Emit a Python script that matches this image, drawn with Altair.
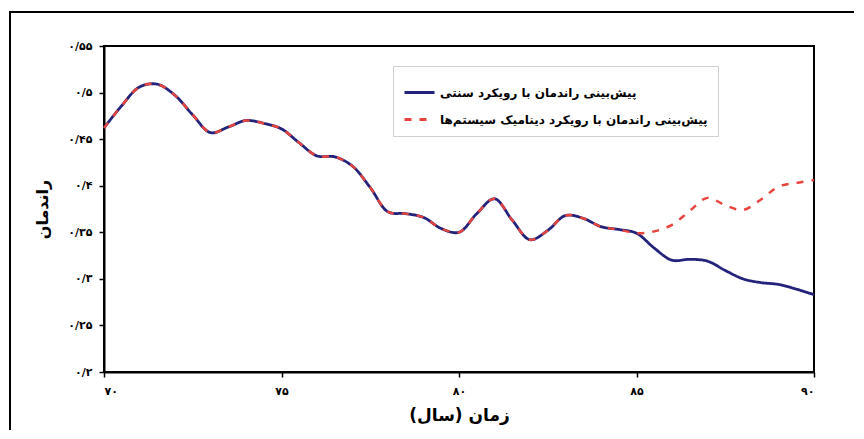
import altair as alt
import pandas as pd

years = [70.0, 70.5, 71.0, 71.5, 72.0, 72.5, 73.0, 73.5, 74.0, 74.5, 75.0,
         75.5, 76.0, 76.5, 77.0, 77.5, 78.0, 78.5, 79.0, 79.5, 80.0,
         80.5, 81.0, 81.5, 82.0, 82.5, 83.0, 83.5, 84.0, 84.5, 85.0,
         85.5, 86.0, 86.5, 87.0, 87.5, 88.0, 88.5, 89.0, 89.5, 90.0]

traditional = [0.462, 0.486, 0.506, 0.509, 0.497, 0.476, 0.457, 0.463, 0.470, 0.467, 0.461,
               0.446, 0.432, 0.431, 0.421, 0.398, 0.372, 0.370, 0.366, 0.354, 0.350,
               0.370, 0.386, 0.363, 0.342, 0.352, 0.368, 0.365, 0.356, 0.353, 0.349,
               0.333, 0.320, 0.321, 0.319, 0.309, 0.300, 0.296, 0.294, 0.289, 0.283]

system_dynamics = [0.462, 0.486, 0.506, 0.509, 0.497, 0.476, 0.457, 0.463, 0.470, 0.467, 0.461,
                   0.446, 0.432, 0.431, 0.421, 0.398, 0.372, 0.370, 0.366, 0.354, 0.350,
                   0.370, 0.386, 0.363, 0.342, 0.352, 0.368, 0.365, 0.356, 0.353, 0.349,
                   0.351, 0.358, 0.373, 0.387, 0.379, 0.374, 0.385, 0.399, 0.403, 0.406]

series_names = ["پیش‌بینی راندمان با رویکرد سنتی",
                "پیش‌بینی راندمان با رویکرد دینامیک سیستم‌ها"]
series_colors = ["#23237c", "#e8433d"]
series_dash = [[1, 0], [7, 8]]

y_ticks = [0.2, 0.25, 0.3, 0.35, 0.4, 0.45, 0.5, 0.55]
y_tick_labels = ["۰/۲", "۰/۲۵", "۰/۳", "۰/۳۵", "۰/۴", "۰/۴۵", "۰/۵", "۰/۵۵"]
x_ticks = [70, 75, 80, 85, 90]
x_tick_labels = ["۷۰", "۷۵", "۸۰", "۸۵", "۹۰"]

x_title = "زمان (سال)" + "\u200f"
y_title = "راندمان"

FONT = "DejaVu Sans"


def label_expr(values, labels):
    parts = [f"abs(datum.value - {v}) < 1e-6 ? '{l}'" for v, l in zip(values, labels)]
    return " : ".join(parts) + " : ''"


df = pd.concat([
    pd.DataFrame({"year": years, "value": traditional, "series": series_names[0]}),
    pd.DataFrame({"year": years, "value": system_dynamics, "series": series_names[1]}),
])

x_enc = alt.X("year:Q",
              scale=alt.Scale(domain=[70, 90], nice=False, zero=False),
              axis=alt.Axis(values=x_ticks, labelExpr=label_expr(x_ticks, x_tick_labels),
                            title=x_title, grid=False, tickSize=5, labelPadding=8,
                            titlePadding=11, titleFontSize=17))
y_enc = alt.Y("value:Q",
              scale=alt.Scale(domain=[0.2, 0.55], nice=False, zero=False),
              axis=alt.Axis(values=y_ticks, labelExpr=label_expr(y_ticks, y_tick_labels),
                            title=y_title, grid=False, tickSize=5, labelPadding=7,
                            titlePadding=17))

legend_opts = dict(title=None, orient="none", legendX=289, legendY=20,
                   symbolType="stroke", symbolSize=900, symbolStrokeWidth=3,
                   labelFontSize=12, labelFont=FONT, labelFontWeight="bold",
                   labelColor="black", labelLimit=0, strokeColor="#d0d0d0",
                   fillColor="white", padding=10, rowPadding=4, labelOffset=4)

color_enc = alt.Color("series:N",
                      scale=alt.Scale(domain=series_names, range=series_colors),
                      legend=alt.Legend(**legend_opts))
dash_enc = alt.StrokeDash("series:N",
                          scale=alt.Scale(domain=series_names, range=series_dash),
                          legend=alt.Legend(**legend_opts))

base = alt.Chart(df)

blue = base.transform_filter(alt.datum.series == series_names[0]).mark_line(
    interpolate="catmull-rom", strokeWidth=2.8).encode(
    x=x_enc, y=y_enc, color=color_enc, strokeDash=dash_enc)

red = base.transform_filter(alt.datum.series == series_names[1]).mark_line(
    interpolate="catmull-rom", strokeWidth=2.4).encode(
    x=x_enc, y=y_enc, color=color_enc, strokeDash=dash_enc)

frame = alt.Chart(alt.Data(values=[{"f": 1}])).mark_rect(
    fill=None, stroke="black", strokeWidth=2).encode(
    x=alt.value(-94), x2=alt.value(900), y=alt.value(-34), y2=alt.value(500))

chart = alt.layer(frame, blue, red).properties(
    width=710, height=326,
    autosize=alt.AutoSizeParams(type="none"),
    padding={"left": 96, "top": 38, "right": 40, "bottom": 58},
).configure_view(
    stroke="black", strokeWidth=2
).configure_axis(
    domainColor="black", domainWidth=2, tickColor="black", tickWidth=1.5,
    labelFont=FONT, labelFontWeight="bold", labelFontSize=11, labelColor="black",
    titleFont=FONT, titleFontWeight="bold", titleFontSize=16, titleColor="black",
)

chart.save("out.html", embed_options={"renderer": "svg", "actions": False})
